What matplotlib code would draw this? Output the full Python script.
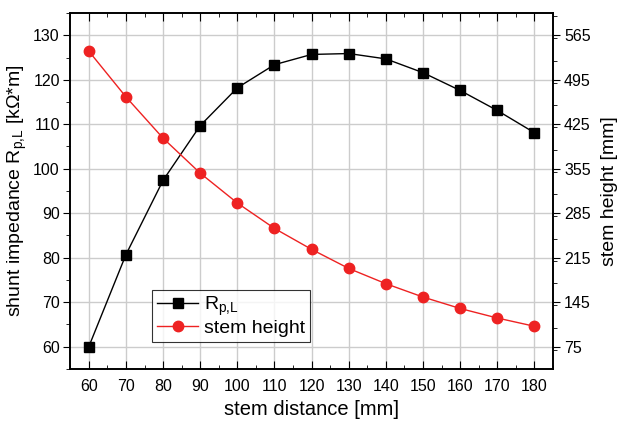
import matplotlib.pyplot as plt
from matplotlib.ticker import MultipleLocator

plt.rcParams['font.family'] = ['Liberation Sans', 'DejaVu Sans']
plt.rcParams['mathtext.default'] = 'regular'

# Daten
stem_distance = [60, 70, 80, 90, 100, 110, 120, 130, 140, 150, 160, 170, 180]
r_pl = [60.0, 80.7, 97.4, 109.7, 118.2, 123.4, 125.7, 125.9, 124.7, 121.6, 117.6, 113.1, 108.1]
stem_height = [540, 468, 403, 348, 301, 261, 228, 198, 174, 153, 135, 120, 107]

fig, ax = plt.subplots(figsize=(6.22, 4.22), dpi=100)
fig.subplots_adjust(left=0.113, right=0.889, top=0.969, bottom=0.126)
ax2 = ax.twinx()

l1, = ax.plot(stem_distance, r_pl, color='black', marker='s', markersize=6.5,
              linewidth=1.0, label='R$_{p{,}L}$', zorder=3)
l2, = ax2.plot(stem_distance, stem_height, color='#ee2222', marker='o', markersize=7.5,
               linewidth=1.0, label='stem height', zorder=3)

ax.set_xlim(55, 185)
ax.set_ylim(55, 135)
ax2.set_ylim(40, 600)

ax.xaxis.set_major_locator(MultipleLocator(10))
ax.xaxis.set_minor_locator(MultipleLocator(5))
ax.yaxis.set_major_locator(MultipleLocator(10))
ax.yaxis.set_minor_locator(MultipleLocator(5))
ax2.set_yticks([75, 145, 215, 285, 355, 425, 495, 565])
ax2.yaxis.set_minor_locator(MultipleLocator(35))

ax.grid(True, which='major', color='#cccccc', linewidth=1.0)
ax.set_axisbelow(True)

ax.tick_params(axis='x', which='both', direction='in', top=True, labelsize=11.5, pad=7)
ax.tick_params(axis='x', which='major', length=6)
ax.tick_params(axis='x', which='minor', length=3)
ax.tick_params(axis='y', which='both', direction='out', labelsize=11.5, pad=2.5)
ax.tick_params(axis='y', which='major', length=5)
ax.tick_params(axis='y', which='minor', length=3)
ax2.tick_params(axis='y', which='both', direction='out', labelsize=11.5, pad=3)
ax2.tick_params(axis='y', which='major', length=5)
ax2.tick_params(axis='y', which='minor', length=3)

for a in (ax, ax2):
    for s in a.spines.values():
        s.set_linewidth(1.2)

ax.set_xlabel('stem distance [mm]', fontsize=14.5, labelpad=5)
ax.set_ylabel('shunt impedance R$_{p{,}L}$ [kΩ*m]', fontsize=14, labelpad=3)
ax2.set_ylabel('stem height [mm]', fontsize=14, labelpad=7)

leg = ax.legend(handles=[l1, l2], loc='lower left', bbox_to_anchor=(0.17, 0.075),
                fontsize=14, frameon=True, fancybox=False, borderpad=0.25,
                handlelength=2.1, handletextpad=0.3, labelspacing=0.1,
                borderaxespad=0)
leg.get_frame().set_edgecolor('black')
leg.get_frame().set_linewidth(0.8)
leg.set_zorder(5)

fig.savefig('out.png', dpi=100)
